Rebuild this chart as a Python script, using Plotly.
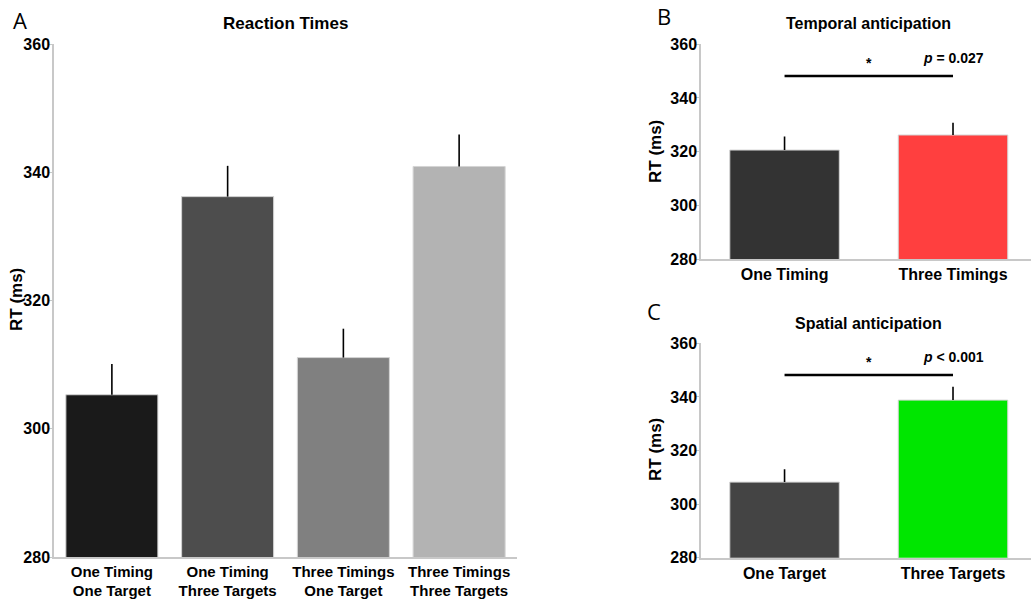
import plotly.graph_objects as go

# Panel A data
a_labels = ["One Timing<br>One Target", "One Timing<br>Three Targets",
            "Three Timings<br>One Target", "Three Timings<br>Three Targets"]
a_means = [305.3, 336.2, 311.1, 340.9]
a_se = [4.8, 4.8, 4.5, 5.0]
a_colors = ["#1a1a1a", "#4d4d4d", "#808080", "#b3b3b3"]

# Panel B data
b_labels = ["One Timing", "Three Timings"]
b_means = [320.6, 326.2]
b_se = [5.0, 4.6]
b_colors = ["#333333", "#ff3f3f"]
b_p = "<i>p</i> = 0.027"

# Panel C data
c_labels = ["One Target", "Three Targets"]
c_means = [308.2, 338.8]
c_se = [4.8, 5.0]
c_colors = ["#444444", "#00e600"]
c_p = "<i>p</i> < 0.001"

sig_y = 348.2
yticks = [280, 300, 320, 340, 360]

W, H = 1031, 609
NARROW = "Liberation Sans Narrow, Arial Narrow, Liberation Sans, Arial"
SANS = "Liberation Sans, Arial, DejaVu Sans"

fig = go.Figure()

def bar_trace(xs, ys, se, colors, width, xa, ya):
    return go.Bar(
        x=xs, y=ys, width=width,
        marker=dict(color=colors, line=dict(color="#d4d4d4", width=1)),
        error_y=dict(type="data", symmetric=False, array=se,
                     arrayminus=[0] * len(se), color="black",
                     thickness=1.6, width=0),
        xaxis=xa, yaxis=ya, showlegend=False, hoverinfo="skip")

fig.add_trace(bar_trace(list(range(len(a_means))), a_means, a_se, a_colors, 0.795, "x", "y"))
fig.add_trace(bar_trace(list(range(len(b_means))), b_means, b_se, b_colors, 0.65, "x2", "y2"))
fig.add_trace(bar_trace(list(range(len(c_means))), c_means, c_se, c_colors, 0.65, "x3", "y3"))

def px_x(p):
    return p / W

def px_y(p):
    return 1 - p / H

ytext = [f"<b>{v}</b>" for v in yticks]
yaxis_common = dict(range=[280, 360], tickvals=yticks, ticktext=ytext, ticks="outside",
                    ticklen=3, tickcolor="#c8c8c8", showline=True,
                    linecolor="#c8c8c8", linewidth=1.5, showgrid=False,
                    zeroline=False, fixedrange=True, automargin=False, ticklabelstandoff=-4)
xaxis_common = dict(showline=True, linecolor="#c8c8c8", linewidth=1.5,
                    showgrid=False, zeroline=False, ticks="", fixedrange=True,
                    automargin=False, tickangle=0)

fig.update_layout(
    width=W, height=H, margin=dict(l=0, r=0, t=0, b=0, autoexpand=False),
    plot_bgcolor="white", paper_bgcolor="white", bargap=0.2,
    xaxis=dict(xaxis_common, domain=[px_x(54), px_x(517)], range=[-0.5, 3.5],
               tickvals=list(range(4)), ticktext=[f"<b>{t}</b>" for t in a_labels],
               tickfont=dict(family=NARROW, size=15, color="black")),
    yaxis=dict(yaxis_common, domain=[px_y(557), px_y(44)],
               tickfont=dict(family=NARROW, size=16, color="black")),
    xaxis2=dict(xaxis_common, domain=[px_x(701), 1.0], range=[-0.496, 1.463],
                tickvals=[0, 1], ticktext=[f"<b>{t}</b>" for t in b_labels],
                tickfont=dict(family=SANS, size=16, color="black"), anchor="y2"),
    yaxis2=dict(yaxis_common, domain=[px_y(259), px_y(44.3)], anchor="x2",
                tickfont=dict(family=SANS, size=16, color="black")),
    xaxis3=dict(xaxis_common, domain=[px_x(701), 1.0], range=[-0.496, 1.463],
                tickvals=[0, 1], ticktext=[f"<b>{t}</b>" for t in c_labels],
                tickfont=dict(family=SANS, size=16, color="black"), anchor="y3"),
    yaxis3=dict(yaxis_common, domain=[px_y(557.7), px_y(343.3)], anchor="x3",
                tickfont=dict(family=SANS, size=16, color="black")),
)

ann = []
C = dict(xanchor="center", yanchor="middle", showarrow=False)
# panel letters
for txt, x, y in [("A", 20, 20), ("B", 664, 16), ("C", 654, 311)]:
    ann.append(dict(C, text=txt, x=px_x(x), y=px_y(y), xref="paper", yref="paper",
                    font=dict(family="Open Sans, Liberation Sans", size=22, color="black")))
# titles
for txt, x, y, fam, sz in [("Reaction Times", 285, 24, NARROW, 17),
                           ("Temporal anticipation", 868, 24, SANS, 16),
                           ("Spatial anticipation", 868, 323, SANS, 16)]:
    ann.append(dict(C, text=f"<b>{txt}</b>", x=px_x(x), y=px_y(y), xref="paper", yref="paper",
                    font=dict(family=fam, size=sz, color="black")))
# y titles
for x, y, fam, sz in [(16, 300, NARROW, 17), (655, 152, SANS, 17), (655, 450, SANS, 17)]:
    ann.append(dict(C, text="<b>RT (ms)</b>", x=px_x(x), y=px_y(y), xref="paper", yref="paper",
                    textangle=-90, font=dict(family=fam, size=sz, color="black")))
# significance stars and p-values
for xr, yr, ptxt in [("x2", "y2", b_p), ("x3", "y3", c_p)]:
    ann.append(dict(C, text="<b>*</b>", x=0.5, y=sig_y + 5.0, xref=xr, yref=yr,
                    font=dict(family=SANS, size=14, color="black")))
    ann.append(dict(C, text=f"<b>{ptxt}</b>", x=1.0, y=sig_y + 6.8, xref=xr, yref=yr,
                    font=dict(family=SANS, size=14, color="black")))
fig.update_layout(annotations=ann)

for xr, yr in [("x2", "y2"), ("x3", "y3")]:
    fig.add_shape(type="line", x0=0, x1=1, y0=sig_y, y1=sig_y, xref=xr, yref=yr,
                  line=dict(color="black", width=2.5))

fig.write_html("out.html")
